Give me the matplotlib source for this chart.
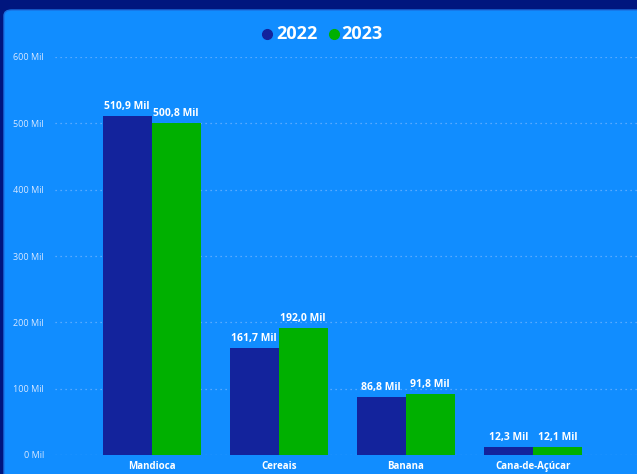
import numpy as np
import matplotlib.pyplot as plt
from matplotlib.patches import FancyBboxPatch
from matplotlib.lines import Line2D

# Data
categorias = ['Mandioca', 'Cereais', 'Banana', 'Cana-de-Açúcar']
v2022 = [510.9, 161.7, 86.8, 12.3]
v2023 = [500.8, 192.0, 91.8, 12.1]
anos = ['2022', '2023']
yticks = [0, 100, 200, 300, 400, 500, 600]

cor_2022 = '#13239c'
cor_2023 = '#00b000'
fundo = '#118dff'

plt.rcParams['font.family'] = ['Open Sans', 'DejaVu Sans']

fig = plt.figure(figsize=(6.37, 4.74), dpi=100)
fig.patch.set_facecolor('#00167e')

# rounded light-blue panel
panel = FancyBboxPatch((4 / 637, -0.05), 1.05, (474 - 10) / 474 + 0.05,
                       boxstyle='round,pad=0,rounding_size=0.012',
                       transform=fig.transFigure, facecolor=fundo,
                       edgecolor='#1a6fe0', linewidth=1.0, zorder=-5)
fig.patches.append(panel)

ax = fig.add_axes([55 / 637, 19 / 474, 1 - 55 / 637, (455 - 57) / 474])
ax.set_zorder(2)
ax.patch.set_alpha(0)

x = np.arange(len(categorias))
w = 0.385
b1 = ax.bar(x - w / 2, v2022, w, color=cor_2022, zorder=3)
b2 = ax.bar(x + w / 2, v2023, w, color=cor_2023, zorder=3)

for bars, vals in [(b1, v2022), (b2, v2023)]:
    for b, v in zip(bars, vals):
        ax.text(b.get_x() + b.get_width() / 2, v + 6,
                f'{v:.1f} Mil'.replace('.', ','), ha='center', va='bottom',
                color='white', fontsize=7.5, fontweight='bold', zorder=4)

ax.set_xlim(-0.76, 3.82)
ax.set_ylim(0, 600)
ax.set_yticks(yticks)
ax.set_yticklabels([f'{t} Mil' for t in yticks], color='#d8e8ff', fontsize=6.5)
ax.set_xticks(x)
ax.set_xticklabels(categorias, color='white', fontsize=7, fontweight='bold')
ax.tick_params(length=0, pad=3)
ax.tick_params(axis='x', pad=4)
ax.tick_params(axis='y', pad=8)
ax.grid(axis='y', linestyle=(0, (1, 3)), color='#6fb4ff', linewidth=0.9, zorder=1)
for s in ax.spines.values():
    s.set_visible(False)

# legend
ly = 440 / 474
for cx, tx, cor, ano in [(267, 276, cor_2022, anos[0]), (334, 341, cor_2023, anos[1])]:
    fig.add_artist(Line2D([cx / 637], [ly], marker='o', markersize=7, color=cor,
                          linestyle='none', transform=fig.transFigure))
    fig.text(tx / 637, ly, ano, color='white', fontsize=13, fontweight='bold',
             ha='left', va='center')

fig.savefig('out.png', dpi=100, facecolor=fig.get_facecolor())
